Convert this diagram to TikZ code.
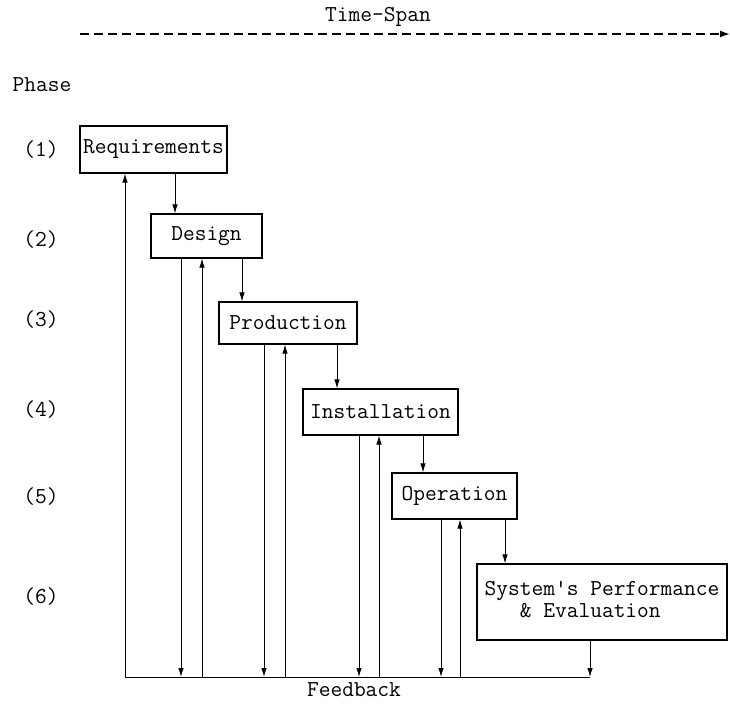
\documentclass[tikz,border=0pt]{standalone}
\usepackage{fontspec}
\usetikzlibrary{arrows.meta}
\usetikzlibrary{positioning}
\tikzset{phasebox/.style = {draw, line width=1.1pt, inner sep=0pt,
                            font=\ttfamily\fontsize{22.8}{22}\selectfont},
         lbl/.style = {font=\ttfamily\fontsize{22.8}{22}\selectfont},
         ->/.style = {-{Latex[length=9pt,width=5.5pt]}},
         flow/.style = {line width=0.9pt}}

\begin{document}
\begin{tikzpicture}[x=1pt, y=-1pt]
      \useasboundingbox (0,0) rectangle (730,704);

      % phases
      \node [phasebox, minimum width=147pt, minimum height=47pt] (req) at (153.5,149.5) {Requirements};
      \node [phasebox, minimum width=111pt, minimum height=44pt] (des) at (206.5,236) {Design};
      \node [phasebox, minimum width=138pt, minimum height=42pt] (prod) at (288,323) {Production};
      \node [phasebox, minimum width=155pt, minimum height=46pt] (inst) at (380.5,412) {Installation};
      \node [phasebox, minimum width=125pt, minimum height=46pt] (oper) at (454.5,496) {Operation};
      \node [phasebox, minimum width=250pt, minimum height=76pt, align=left] (sys) at (602,602)
            {System's Performance\\\phantom{Sys}\& Evaluation};

      \node [lbl] (tspan) at (378,17) {Time-Span};
      \node [lbl] (phase) at (42,85) {Phase};
      \node [lbl] (p1) at (41,0 |- req) {(1)};
      \node [lbl] (p2) at (41,240) {(2)};
      \node [lbl] (p3) at (41,320) {(3)};
      \node [lbl] (p4) at (41,410) {(4)};
      \node [lbl] (p5) at (41,497) {(5)};
      \node [lbl] (p6) at (41,597) {(6)};
      \node [lbl] (fbtext) at (354,690) {Feedback};

      \coordinate (tsL) at (80,34);
      \coordinate (tsR) at (730,34);
      \draw [-{Latex[length=10pt,width=7pt]}, line width=1.5pt, dash pattern=on 9pt off 5pt] (tsL) -- (tsR);

      % forward
      \draw [->, flow] (req.south -| 175,0) -- (des.north -| 175,0);
      \draw [->, flow] (des.south -| 242,0) -- (prod.north -| 242,0);
      \draw [->, flow] (prod.south -| 337,0) -- (inst.north -| 337,0);
      \draw [->, flow] (inst.south -| 423,0) -- (oper.north -| 423,0);
      \draw [->, flow] (oper.south -| 505,0) -- (sys.north -| 505,0);

      % feedback
      \coordinate (fbL) at (125,677);
      \coordinate (fbR) at (590,677);
      \draw [->, flow] (sys.south -| fbR) -- (fbR);
      \draw [flow] (fbR) -- (fbL);
      \draw [->, flow] (fbL) -- (req.south -| fbL);

      \draw [->, flow] (des.south -| 181,0) -- (fbL -| 181,0);
      \draw [->, flow] (fbL -| 202,0) -- (des.south -| 202,0);
      \draw [->, flow] (prod.south -| 264,0) -- (fbL -| 264,0);
      \draw [->, flow] (fbL -| 285,0) -- (prod.south -| 285,0);
      \draw [->, flow] (inst.south -| 359,0) -- (fbL -| 359,0);
      \draw [->, flow] (fbL -| 379,0) -- (inst.south -| 379,0);
      \draw [->, flow] (oper.south -| 441,0) -- (fbL -| 441,0);
      \draw [->, flow] (fbL -| 460,0) -- (oper.south -| 460,0);
\end{tikzpicture}
\end{document}
